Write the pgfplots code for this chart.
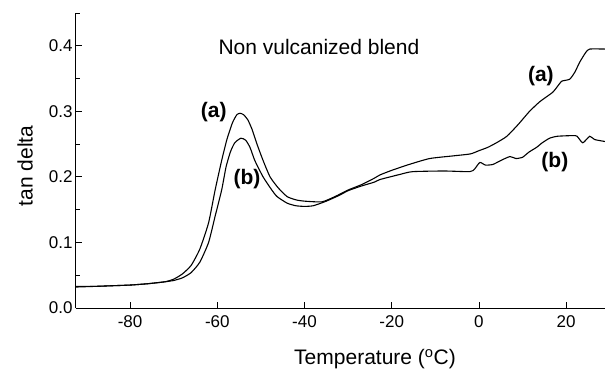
\documentclass[border=0pt]{standalone}
\usepackage{fontspec}
\setmainfont{Liberation Sans}
\usepackage{pgfplots}
\pgfplotsset{compat=1.18}
\begin{document}
\begin{tikzpicture}
\useasboundingbox (0,0) rectangle (605pt,376pt);
\begin{axis}[at={(76pt,68pt)}, anchor=south west, scale only axis,
  width=529pt, height=295pt,
  xmin=-92.4, xmax=28.9, ymin=0, ymax=0.45,
  axis lines*=left, axis line style={line width=1pt},
  tick align=inside, major tick length=6pt, minor tick length=4pt,
  tick style={black, line width=0.9pt},
  xtick={-80,-60,-40,-20,0,20},
  ytick={0,0.1,0.2,0.3,0.4},
  minor ytick={0.05,0.15,0.25,0.35,0.45},
  yticklabel style={/pgf/number format/.cd, fixed, fixed zerofill, precision=1},
  /pgf/number format/assume math mode=true,
  ticklabel style={font=\fontsize{17}{19}\selectfont},
  xticklabel style={yshift=-4pt},
  clip=false]
\addplot[black, line width=1.1pt, smooth, tension=0.35] coordinates {
(-92.4,0.033) (-88,0.033) (-84,0.034) (-80,0.035) (-76,0.037) (-72,0.040)
(-70,0.044) (-68,0.052) (-66,0.065) (-64,0.090) (-62,0.130) (-60.5,0.180)
(-59,0.225) (-57.8,0.257) (-56.5,0.283) (-55.5,0.295) (-54.8,0.297) (-54,0.295)
(-53,0.287) (-52,0.272) (-50.9,0.250) (-49.5,0.225) (-47.9,0.200) (-46,0.183)
(-44,0.170) (-42,0.165) (-40,0.163) (-36,0.162) (-33,0.170) (-30,0.180)
(-27,0.188) (-24,0.198) (-22.7,0.203) (-20,0.210) (-16,0.219) (-11.3,0.228)
(-6,0.232) (-2,0.235) (0,0.240) (2,0.245) (4,0.252) (6.4,0.262) (9,0.280)
(11.6,0.300) (14,0.315) (16.9,0.329) (18,0.338) (19,0.346) (20.8,0.349)
(22,0.360) (23.1,0.375) (24.5,0.390) (25.4,0.395) (28.9,0.395)
};
\addplot[black, line width=1.1pt, smooth, tension=0.35] coordinates {
(-92.4,0.032) (-88,0.033) (-84,0.034) (-80,0.035) (-76,0.037) (-72,0.040)
(-70,0.042) (-68,0.046) (-66,0.054) (-64,0.070) (-62,0.100) (-60.5,0.140)
(-59,0.180) (-58,0.215) (-57,0.238) (-56,0.252) (-54.6,0.259) (-53.5,0.256)
(-52.5,0.245) (-51.4,0.225) (-49.5,0.200) (-47.5,0.180) (-46.3,0.170)
(-44,0.160) (-42,0.156) (-40,0.155) (-38,0.156) (-35,0.163) (-32,0.172)
(-30,0.179) (-27,0.186) (-24,0.192) (-22.7,0.196) (-18,0.204) (-15.2,0.208)
(-8,0.209) (-2.1,0.208) (-1,0.212) (0.2,0.222) (1.5,0.218) (3.2,0.219)
(5,0.225) (7.1,0.231) (8.5,0.228) (10,0.230) (11.5,0.238) (13.2,0.245)
(14.5,0.252) (16.2,0.259) (18,0.262) (21.5,0.263) (22.5,0.262) (23.8,0.252)
(25.4,0.262) (26.5,0.257) (28.9,0.254)
};
\node[font=\fontsize{21}{23}\selectfont] at (axis cs:-36.7,0.398) {Non vulcanized blend};
\node[font=\fontsize{21}{23}\selectfont\bfseries] at (axis cs:-60.8,0.299) {(a)};
\node[font=\fontsize{21}{23}\selectfont\bfseries] at (axis cs:-53.2,0.196) {(b)};
\node[font=\fontsize{21}{23}\selectfont\bfseries] at (axis cs:14.2,0.354) {(a)};
\node[font=\fontsize{21}{23}\selectfont\bfseries] at (axis cs:17.4,0.222) {(b)};
\end{axis}
\node[rotate=90, font=\fontsize{21}{23}\selectfont] at (25pt,210pt) {tan delta};
\node[font=\fontsize{21}{23}\selectfont] at (375pt,17pt) {Temperature (\textsuperscript{o}C)};
\end{tikzpicture}
\end{document}
